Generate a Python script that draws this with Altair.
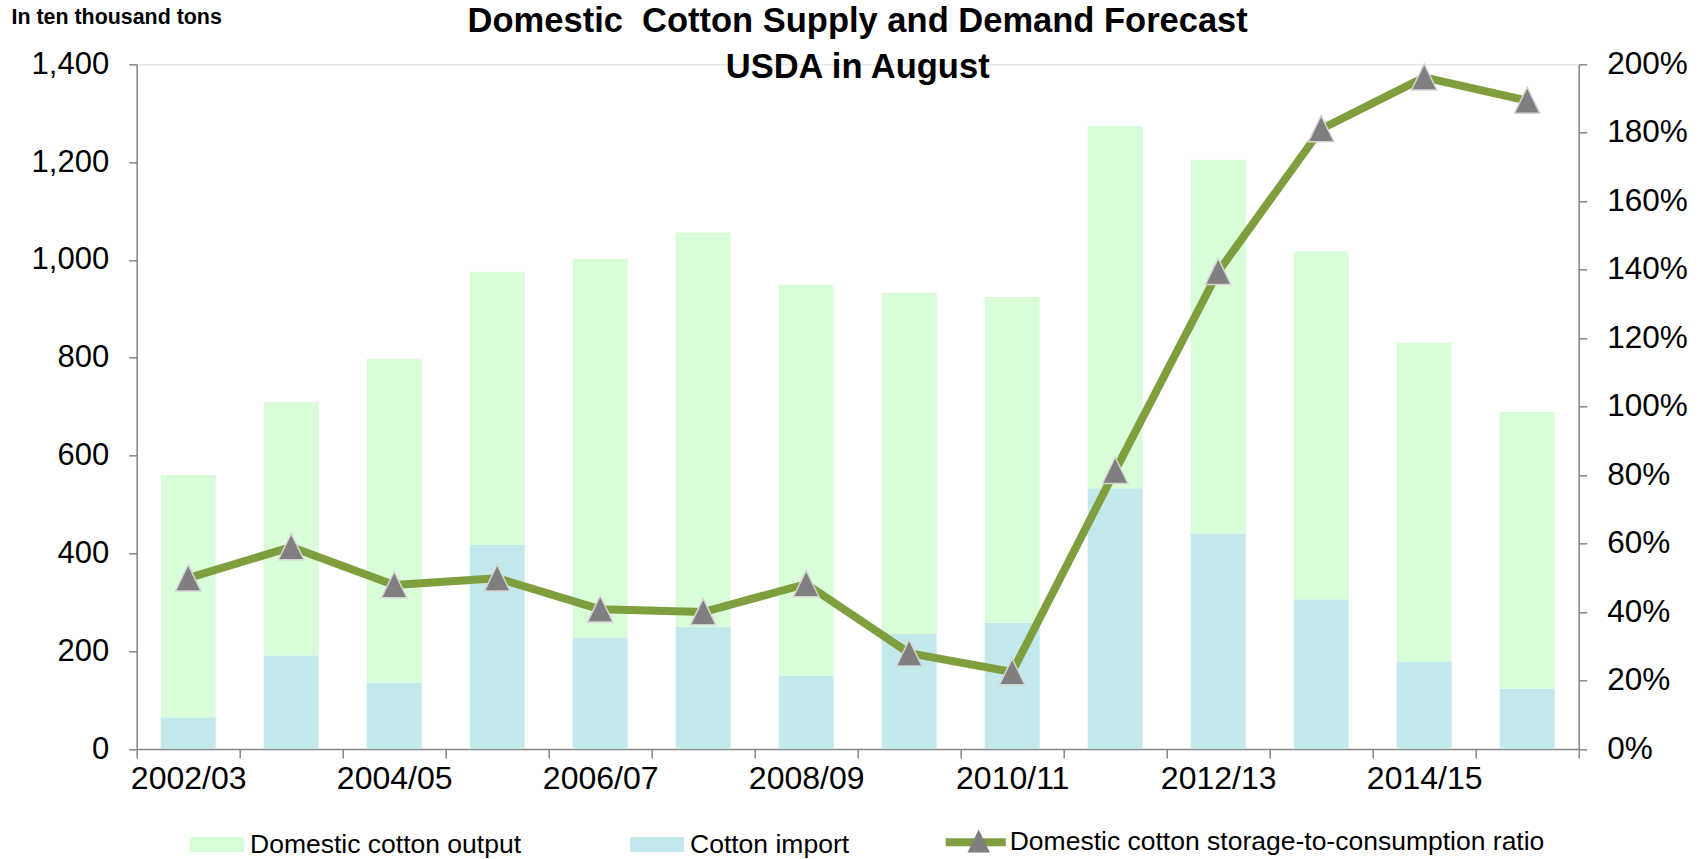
import altair as alt
import pandas as pd

seasons = ["2002/03", "2003/04", "2004/05", "2005/06", "2006/07", "2007/08", "2008/09",
           "2009/10", "2010/11", "2011/12", "2012/13", "2013/14", "2014/15", "2015/16"]
domestic_output = [495, 518, 662, 559, 774, 806, 799, 698, 666, 741, 765, 712, 653, 566]
cotton_import = [65, 191, 136, 417, 228, 250, 150, 235, 258, 533, 440, 306, 178, 123]
stock_ratio = [49.9, 59.0, 47.9, 49.9, 40.8, 40.0, 48.2, 28.0, 22.5, 81.3, 139.4, 181.1, 196.2, 189.4]

S_OUT = "Domestic cotton output"
S_IMP = "Cotton import"
S_RATIO = "Domestic cotton storage-to-consumption ratio"

GREEN_BAR = "#D9FDD9"
BLUE_BAR = "#C4E9ED"
LINE_GREEN = "#7F9F3F"
AXIS_GRAY = "#868686"
FONT = "Liberation Sans"

rows = []
for s, o, i in zip(seasons, domestic_output, cotton_import):
    rows.append({"season": s, "series": S_IMP, "value": i, "stack_order": 0})
    rows.append({"season": s, "series": S_OUT, "value": o, "stack_order": 1})
bars_df = pd.DataFrame(rows)

line_df = pd.DataFrame({"season": seasons, "ratio": stock_ratio,
                        "line_series": S_RATIO, "marker_series": "marker"})

odd_labels = seasons[1::2]
label_expr = "indexof([" + ",".join("'%s'" % s for s in odd_labels) + "], datum.value) >= 0 ? '' : datum.label"

x_enc = alt.X(
    "season:N", sort=seasons,
    scale=alt.Scale(paddingInner=0, paddingOuter=0),
    axis=alt.Axis(title=None, labelAngle=0, labelExpr=label_expr, tickBand="extent",
                  labelFontSize=32, labelFont=FONT, labelColor="black", labelPadding=5,
                  tickSize=9, tickColor=AXIS_GRAY, tickWidth=1.5,
                  domainColor=AXIS_GRAY, domainWidth=1.5, grid=False),
)

bars = alt.Chart(bars_df).mark_bar(width=55).encode(
    x=x_enc,
    y=alt.Y("value:Q", stack="zero",
            scale=alt.Scale(domain=[0, 1400], nice=False),
            axis=alt.Axis(values=list(range(0, 1401, 200)), format=",.0f",
                          title="In ten thousand tons", titleAngle=0,
                          titleX=-125.7, titleY=-46.8, titleAlign="left",
                          titleBaseline="middle", titleFontSize=21.4,
                          titleFontWeight="bold", titleFont=FONT, titleColor="black",
                          labelFontSize=31, labelFont=FONT, labelColor="black",
                          labelPadding=20, tickSize=8, tickColor=AXIS_GRAY, tickWidth=1.5,
                          domainColor=AXIS_GRAY, domainWidth=1.5, grid=False)),
    color=alt.Color("series:N",
                    scale=alt.Scale(domain=[S_OUT, S_IMP], range=[GREEN_BAR, BLUE_BAR]),
                    legend=alt.Legend(orient="none", legendX=53.3, legendY=753,
                                      direction="horizontal", columns=2, title=None,
                                      symbolType="M-1,-0.28L1,-0.28L1,0.28L-1,0.28Z",
                                      symbolSize=2916, symbolStrokeWidth=0,
                                      symbolOpacity=1, labelFontSize=26.5, labelFont=FONT,
                                      labelColor="black", labelOffset=6, labelLimit=0,
                                      columnPadding=108)),
    order=alt.Order("stack_order:Q", sort="ascending"),
)

y_right = alt.Y("ratio:Q", scale=alt.Scale(domain=[0, 200], nice=False),
                axis=alt.Axis(orient="right", values=list(range(0, 201, 20)),
                              labelExpr="datum.value + '%'", title=None,
                              labelFontSize=31.5, labelFont=FONT, labelColor="black",
                              labelPadding=20, tickSize=8, tickColor=AXIS_GRAY,
                              tickWidth=1.5, domainColor=AXIS_GRAY, domainWidth=1.5,
                              grid=False))

line = alt.Chart(line_df).mark_line(strokeWidth=8, strokeCap="round", strokeJoin="round").encode(
    x=x_enc,
    y=y_right,
    stroke=alt.Stroke("line_series:N",
                      scale=alt.Scale(domain=[S_RATIO], range=[LINE_GREEN]),
                      legend=alt.Legend(orient="none", legendX=805, legendY=744,
                                        title=None, symbolType="stroke", symbolSize=3600,
                                        symbolStrokeWidth=8, labelFontSize=26.5,
                                        labelFont=FONT, labelColor="black", labelOffset=0,
                                        labelLimit=0)),
)

TRI = "M0,-1.05L-1,1L1,1Z"
points = alt.Chart(line_df).mark_point(filled=True, size=650, color="#7F7F7F",
                                       stroke="#D4D4D4", strokeWidth=1.5, opacity=1).encode(
    x=x_enc,
    y=y_right,
    shape=alt.Shape("marker_series:N",
                    scale=alt.Scale(domain=["marker"], range=[TRI]),
                    legend=alt.Legend(orient="none", legendX=829, legendY=764,
                                      title=None, labelExpr="''", symbolSize=500,
                                      symbolFillColor="#7F7F7F", symbolStrokeColor="#D4D4D4",
                                      symbolStrokeWidth=1.5, labelFontSize=26)),
)

chart = alt.layer(bars, alt.layer(line, points)).resolve_scale(
    y="independent"
).properties(
    width=1442, height=684.7,
    title=alt.Title(["Domestic\u00a0 Cotton Supply and Demand Forecast", "USDA in August"],
                    fontSize=34.5, fontWeight="bold", font=FONT, color="black",
                    lineHeight=46.5, anchor="middle", offset=-79),
    autosize=alt.AutoSizeParams(type="none"),
    padding={"left": 136.7, "top": 64.3, "right": 126.3, "bottom": 110},
).configure_view(stroke=None).configure(background="white")

chart.save("out.html", embed_options={"renderer": "svg", "actions": False})
